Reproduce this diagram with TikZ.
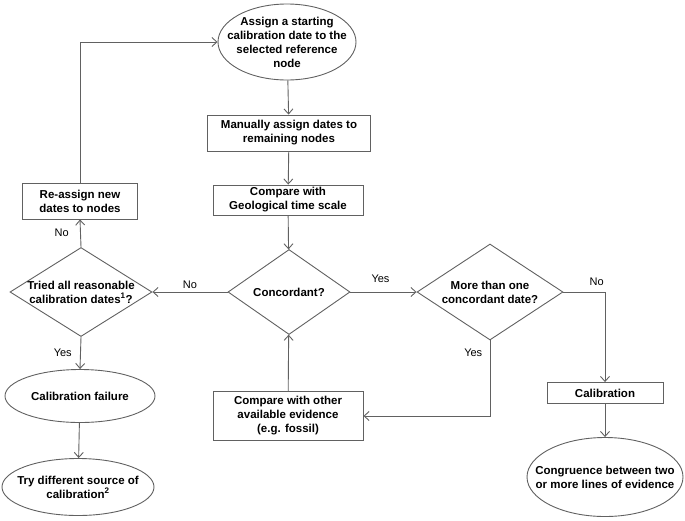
\documentclass[tikz,border=0pt]{standalone}
\usepackage{fontspec}
\setmainfont{Liberation Sans}
\usetikzlibrary{shapes.geometric,arrows.meta}

\begin{document}
\begin{tikzpicture}[
  x=1pt, y=-1pt,
  font=\fontsize{11.5}{14}\selectfont\bfseries,
  >={Straight Barb[length=5pt,width=9pt]},
  bx/.style={draw=black!62, line width=0.9pt, rectangle, align=center, inner sep=0pt},
  ov/.style={draw=black!62, line width=0.9pt, ellipse, inner sep=0pt},
  dm/.style={draw=black!62, line width=0.9pt, diamond, inner sep=0pt},
  yn/.style={font=\fontsize{11}{13}\selectfont\mdseries},
  ln/.style={->, draw=black!62, line width=0.9pt},
]
\useasboundingbox (0,0) rectangle (685,520);

% centre column
\node[ov, minimum width=138, minimum height=76,
      label={[align=center]center:Assign a starting\\calibration date to the\\selected reference\\node}] (start) at (287,42) {};
\node[bx, minimum width=163, minimum height=36] (manual) at (289,133) {Manually assign dates to\\remaining nodes};
\node[bx, minimum width=150, minimum height=30] (geo) at (288,200) {Compare with\\Geological time scale};
\node[dm, minimum width=122, minimum height=85, label={center:Concordant?}] (conc) at (289,292) {};
\node[bx, minimum width=150, minimum height=49] (evid) at (288,416) {Compare with other\\available evidence\\(e.g. fossil)};

% left column
\node[bx, minimum width=115, minimum height=36] (reassign) at (80,201) {Re-assign new\\dates to nodes};
\node[dm, minimum width=142, minimum height=89,
      label={[align=center]center:Tried all reasonable\\calibration dates\textsuperscript{1}?}] (tried) at (81,292) {};
\node[ov, minimum width=150, minimum height=53, label={center:Calibration failure}] (fail) at (80,396) {};
\node[ov, minimum width=152, minimum height=57,
      label={[align=center]center:Try different source of\\calibration\textsuperscript{2}}] (source) at (78,487) {};

% right column
\node[dm, minimum width=146, minimum height=96,
      label={[align=center]center:More than one\\concordant date?}] (more) at (490,292) {};
\node[bx, minimum width=116, minimum height=21] (calib) at (605,393) {Calibration};
\node[ov, minimum width=156, minimum height=79,
      label={[align=center]center:Congruence between two\\or more lines of evidence}] (congr) at (605,477) {};

% connectors
\draw[ln] (reassign.north) |- (start.west);
\draw[ln] (start) -- (manual);
\draw[ln] (manual) -- (geo);
\draw[ln] (geo) -- (conc);
\draw[ln] (conc.west) -- node[yn, above]{No} (tried.east);
\draw[ln] (conc.east) -- node[yn, above=6pt, xshift=-3pt]{Yes} (more.west);
\draw[ln] (tried.north) -- node[yn, left=8pt]{No} (reassign.south);
\draw[ln] (tried.south) -- node[yn, left=5pt]{Yes} (fail.north);
\draw[ln] (fail) -- (source);
\draw[ln] (more.south) |- node[yn, left=4pt, pos=0.08]{Yes} (evid.east);
\draw[ln] (more.east) -| node[yn, above=3pt, pos=0.4]{No} (calib.north);
\draw[ln] (evid) -- (conc);
\draw[ln] (calib) -- (congr);
\end{tikzpicture}
\end{document}
